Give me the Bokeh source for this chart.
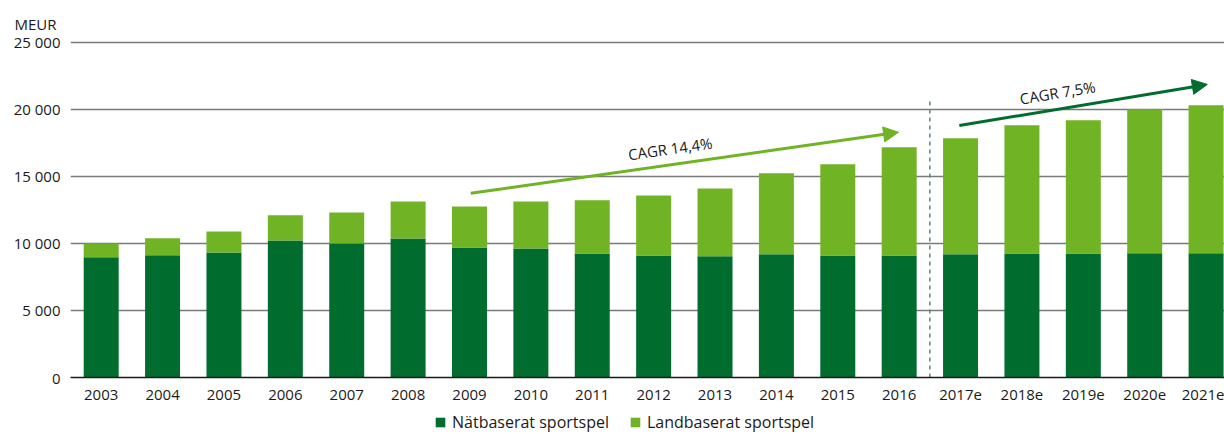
from bokeh.plotting import figure
from bokeh.layouts import column
from bokeh.models import (ColumnDataSource, FixedTicker, Range1d, Label, Arrow,
                          NormalHead, Legend, LegendItem, Title)
from bokeh.embed import file_html
from bokeh.resources import INLINE

# ---- data ----
categories = ["2003", "2004", "2005", "2006", "2007", "2008", "2009", "2010",
              "2011", "2012", "2013", "2014", "2015", "2016",
              "2017e", "2018e", "2019e", "2020e", "2021e"]
natbaserat = [8980, 9130, 9330, 10230, 10000, 10380, 9710, 9630, 9260, 9110,
              9040, 9190, 9110, 9110, 9190, 9260, 9260, 9270, 9280]
totals = [10000, 10400, 10900, 12100, 12320, 13140, 12770, 13140, 13220, 13590,
          14110, 15240, 15910, 17180, 17850, 18820, 19190, 20010, 20310]
landbaserat = [t - n for t, n in zip(totals, natbaserat)]
y_ticks = [0, 5000, 10000, 15000, 20000, 25000]
y_tick_labels = ["0", "5 000", "10 000", "15 000", "20 000", "25 000"]
series_names = ["Nätbaserat sportspel", "Landbaserat sportspel"]
cagr_labels = ["CAGR 14,4%", "CAGR 7,5%"]
unit_label = "MEUR"
# arrows: (x index start, y start, x index end, y end)
cagr_hist = (6.02, 13750, 12.99, 18300)
cagr_fcst = (13.98, 18800, 18.02, 21870)
divider = (13.5, 20900)

DARK = "#006D2F"
LIGHT = "#70B325"
FONT = "Open Sans"
TXT = "#1a1a1a"

idx = list(range(len(categories)))
src = ColumnDataSource(dict(x=idx, nat=natbaserat, land=landbaserat))

p = figure(width=1224, height=410, output_backend="svg", toolbar_location=None,
           x_range=Range1d(-0.5, 18.30), y_range=Range1d(0, 25298),
           min_border_left=70, min_border_right=0, min_border_top=38,
           min_border_bottom=33)
p.outline_line_color = None
p.background_fill_color = "white"

p.title = Title(text=unit_label, align="left", offset=-56, standoff=10,
                text_font=FONT, text_font_size="15px", text_font_style="normal",
                text_color=TXT)

rs = p.vbar_stack(["nat", "land"], x="x", width=0.57, source=src,
                  color=[DARK, LIGHT], line_color=None)

# axes
p.xaxis.ticker = FixedTicker(ticks=idx)
p.xaxis.major_label_overrides = {i: c for i, c in zip(idx, categories)}
p.xaxis.major_tick_line_color = None
p.xaxis.major_tick_out = 0
p.xaxis.minor_tick_line_color = None
p.xaxis.axis_line_color = "#1a1a1a"
p.xaxis.axis_line_width = 1.5
p.xaxis.major_label_standoff = 12
p.xaxis.major_label_text_font = FONT
p.xaxis.major_label_text_font_size = "15px"
p.xaxis.major_label_text_color = TXT

p.yaxis.ticker = FixedTicker(ticks=y_ticks)
p.yaxis.major_label_overrides = {t: l for t, l in zip(y_ticks, y_tick_labels)}
p.yaxis.axis_line_color = None
p.yaxis.major_tick_line_color = None
p.yaxis.major_tick_out = 0
p.yaxis.minor_tick_line_color = None
p.yaxis.major_label_standoff = 10
p.yaxis.major_label_text_font = FONT
p.yaxis.major_label_text_font_size = "15px"
p.yaxis.major_label_text_color = TXT

p.xgrid.grid_line_color = None
p.ygrid.grid_line_color = "#7a7a7a"
p.ygrid.grid_line_width = 1.5
p.ygrid.ticker = FixedTicker(ticks=y_ticks[1:])

# divider
p.segment(x0=[divider[0]], y0=[0], x1=[divider[0]], y1=[divider[1]],
          line_color="#4E8F6C", line_width=1.5, line_dash="4 4")

# arrows
p.add_layout(Arrow(x_start=cagr_hist[0], y_start=cagr_hist[1],
                   x_end=cagr_hist[2], y_end=cagr_hist[3],
                   line_color=LIGHT, line_width=3,
                   end=NormalHead(size=15, fill_color=LIGHT, line_color=LIGHT)))
p.add_layout(Arrow(x_start=cagr_fcst[0], y_start=cagr_fcst[1],
                   x_end=cagr_fcst[2], y_end=cagr_fcst[3],
                   line_color=DARK, line_width=3,
                   end=NormalHead(size=15, fill_color=DARK, line_color=DARK)))

p.add_layout(Label(x=9.27, y=17090, text=cagr_labels[0], angle=8.1,
                   angle_units="deg", text_align="center", text_baseline="middle",
                   text_font=FONT, text_font_size="15px", text_color=TXT))
p.add_layout(Label(x=15.58, y=21270, text=cagr_labels[1], angle=9.4,
                   angle_units="deg", text_align="center", text_baseline="middle",
                   text_font=FONT, text_font_size="15px", text_color=TXT))

# legend strip below the chart (its frame is aligned with the chart's frame)
lg = figure(width=1224, height=24, output_backend="svg", toolbar_location=None,
            x_range=Range1d(0, 1), y_range=Range1d(0, 1),
            x_axis_type=None, y_axis_type=None, min_border=0)
lg.outline_line_color = None
lg.xgrid.grid_line_color = None
lg.ygrid.grid_line_color = None
lsrc = ColumnDataSource(dict(x=[5], top=[0]))  # off-screen point, legend only
r1 = lg.vbar(x="x", top="top", width=0.1, source=lsrc, color=DARK, line_color=None)
r2 = lg.vbar(x="x", top="top", width=0.1, source=lsrc, color=LIGHT, line_color=None)
legend = Legend(items=[LegendItem(label=series_names[0], renderers=[r1]),
                       LegendItem(label=series_names[1], renderers=[r2])],
                orientation="horizontal", location=(364, 1),
                label_text_font=FONT, label_text_font_size="16px",
                label_text_color=TXT, glyph_width=12, glyph_height=12,
                spacing=20, margin=0, padding=0, border_line_color=None,
                background_fill_alpha=0, label_standoff=6)
lg.add_layout(legend, "center")

open("out.html", "w").write(file_html(column(p, lg, spacing=0), INLINE))
